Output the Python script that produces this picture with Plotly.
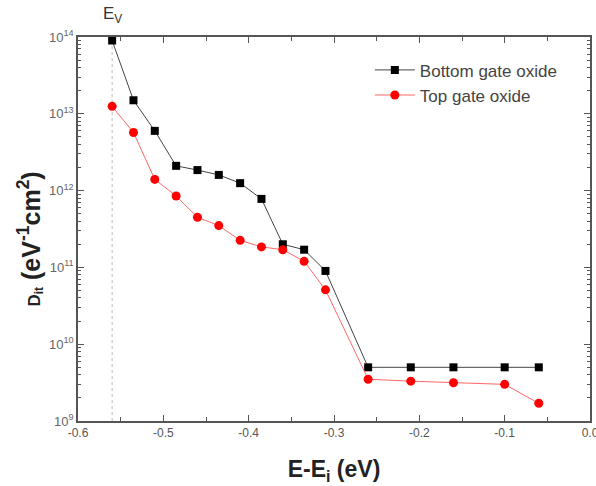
import plotly.graph_objects as go

energy = [-0.56, -0.535, -0.51, -0.485, -0.46, -0.435, -0.41, -0.385, -0.36, -0.335, -0.31,
          -0.26, -0.21, -0.16, -0.10, -0.06]
bottom_dit = [9.0e13, 1.5e13, 6.0e12, 2.1e12, 1.85e12, 1.6e12, 1.25e12, 7.8e11, 2.0e11, 1.7e11, 9.0e10,
              5.0e9, 5.0e9, 5.0e9, 5.0e9, 5.0e9]
top_dit = [1.25e13, 5.7e12, 1.4e12, 8.5e11, 4.5e11, 3.5e11, 2.25e11, 1.85e11, 1.7e11, 1.2e11, 5.1e10,
           3.5e9, 3.3e9, 3.15e9, 3.0e9, 1.7e9]
ev_position = -0.56
y_tickvals = [1e9, 1e10, 1e11, 1e12, 1e13, 1e14]
y_ticktext = ["10<sup>9</sup>", "10<sup>10</sup>", "10<sup>11</sup>", "10<sup>12</sup>",
              "10<sup>13</sup>", "10<sup>14</sup>"]
x_tickvals = [-0.6, -0.5, -0.4, -0.3, -0.2, -0.1, 0.0]
x_ticktext = ["-0.6", "-0.5", "-0.4", "-0.3", "-0.2", "-0.1", "0.0"]

FONT = "Arial, Liberation Sans"

fig = go.Figure()
fig.add_trace(go.Scatter(
    x=energy, y=bottom_dit, mode="lines+markers", name="Bottom gate oxide",
    line=dict(color="#444444", width=1),
    marker=dict(symbol="square", size=8, color="black"),
))
fig.add_trace(go.Scatter(
    x=energy, y=top_dit, mode="lines+markers", name="Top gate oxide",
    line=dict(color="#ff6666", width=1),
    marker=dict(symbol="circle", size=9, color="#ff0000"),
))

fig.add_shape(type="line", xref="x", yref="paper", x0=ev_position, x1=ev_position, y0=0, y1=1,
              line=dict(color="#bbbbbb", width=1, dash="dot"), layer="below")
fig.add_annotation(x=ev_position, y=1, xref="x", yref="paper", yanchor="bottom",
                   text="E<sub>V</sub>", showarrow=False, yshift=9,
                   font=dict(family=FONT, size=17, color="#333333"))
fig.add_annotation(x=-0.094, y=0.475, xref="paper", yref="paper", xanchor="center", yanchor="middle",
                   textangle=-90, showarrow=False,
                   text="<b><span style='font-size:17px'>D<sub>it</sub></span> (eV<sup>-1</sup>cm<sup>2</sup>)</b>",
                   font=dict(family=FONT, size=25, color="#222222"))

axis_common = dict(showline=True, linecolor="#555555", linewidth=1.5, mirror="ticks",
                   ticks="inside", tickcolor="#555555", showgrid=False, zeroline=False,
                   automargin=False, ticklabeloverflow="allow")

fig.update_xaxes(range=[-0.6, 0.0], tickvals=x_tickvals, ticktext=x_ticktext, ticklen=6,
                 minor=dict(ticks="inside", ticklen=4, dtick=0.05, tickcolor="#555555"),
                 tickfont=dict(family=FONT, size=12, color="#555555"),
                 title=dict(text="<b>E-E<sub>i</sub> (eV)</b>", standoff=22,
                            font=dict(family=FONT, size=23, color="#222222")),
                 **axis_common)
fig.update_yaxes(type="log", range=[9, 14], tickvals=y_tickvals, ticktext=y_ticktext, ticklen=6,
                 minor=dict(ticks="inside", ticklen=3, tickcolor="#555555",
                            tickvals=[m * 10 ** e for e in range(9, 14) for m in range(2, 10)]),
                 tickfont=dict(family=FONT, size=13, color="#666666"),
                 **axis_common)

fig.update_layout(
    width=596, height=486,
    margin=dict(l=78, r=6, t=37, b=65, autoexpand=False),
    plot_bgcolor="white", paper_bgcolor="white",
    showlegend=True,
    legend=dict(x=0.57, y=0.96, xanchor="left", yanchor="top", bgcolor="rgba(0,0,0,0)",
                font=dict(family=FONT, size=17, color="#444444"),
                tracegroupgap=0, itemwidth=40),
)

fig.write_html("out.html")
